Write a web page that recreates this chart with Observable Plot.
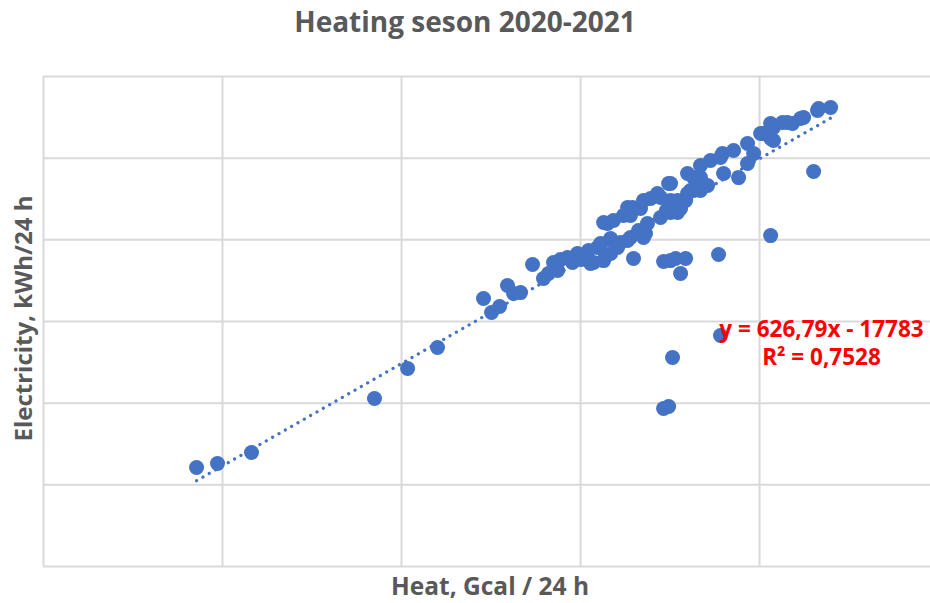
<!DOCTYPE html>
<html>
<head>
<meta charset="utf-8">
<script src="https://cdn.jsdelivr.net/npm/d3@7"></script>
<script src="https://cdn.jsdelivr.net/npm/@observablehq/plot@0.6"></script>
<style>
  html, body { margin: 0; padding: 0; background: #fff; }
  #title { height: 45px; padding-top: 5px; line-height: 32px; text-align: center;
           font-family: "Open Sans", sans-serif; font-weight: 700; font-size: 28px; color: #595959; }
</style>
</head>
<body>
<div id="title">Heating seson 2020-2021</div>
<div id="chart"></div>
<script>
// Heat, Gcal / 24 h
const heat = [36.75,37.92,39.82,46.69,48.54,50.21,
  52.78,53.23,53.68,54.12,54.46,54.85,55.52,56.13,56.41,56.69,56.92,57.08,57.47,57.75,58.03,58.20,58.65,58.93,59.15,59.49,59.60,
  58.76,59.49,59.88,59.32,59.88,60.43,60.99,61.44,61.83,61.94,61.72,60.83,60.27,
  59.71,60.04,60.60,60.99,60.83,61.11,61.55,61.72,62.11,62.50,62.67,63.12,63.23,63.23,63.23,63.62,63.79,64.07,64.18,64.51,64.90,65.30,64.35,63.62,62.67,63.00,
  64.18,64.51,64.90,64.90,66.13,66.19,67.03,66.75,67.53,67.53,67.87,68.42,66.02,65.46,
  68.82,68.98,69.49,69.76,70.04,70.49,70.66,71.44,71.50,72.17,68.98,68.82,68.26,68.65,
  61.16,62.84,63.23,63.51,64.07,63.79,65.91,66.02,63.34,62.84,63.12,68.82,71.22];
// Electricity, kWh / 24 h
const electricity = [6060,6310,6980,10290,12120,13410,
  16410,15550,15920,17200,16710,16770,18490,17630,17940,18610,18120,18790,18920,18610,19160,18790,19350,18610,19530,21060,18980,
  18550,18730,19160,19770,20080,19840,20140,20570,20390,21000,20140,19960,19530,
  21000,21180,21490,21490,21980,21980,21920,22410,22530,22840,22590,23450,23450,22410,21670,21670,21920,22410,22840,23020,23020,23330,23020,22410,21370,21790,
  24060,23810,24550,23810,25280,24060,23810,25470,25900,24670,25280,26510,25040,24860,
  27120,26880,27180,27180,27120,27430,27490,27920,28040,28100,26080,26200,26510,26510,
  18860,18670,18730,18860,18860,17940,19100,14140,12800,9670,9800,20260,24180];

// Linear trendline (from chart)
const slope = 626.79;
const intercept = -17783;
const equationLines = ["y = 626,79x - 17783", "R² = 0,7528"];

// Axis ranges / grid (no tick labels shown)
const xDomain = [28.2, 77.75];
const yDomain = [0, 30000];
const xGridTicks = [28.2, 38.2, 48.2, 58.2, 68.2];
const yGridTicks = [0, 5000, 10000, 15000, 20000, 25000, 30000];

const points = heat.map((h, i) => ({heat: h, elec: electricity[i]}));
const [xmin, xmax] = d3.extent(heat);
const trend = [xmin, xmax].map(x => ({heat: x, elec: slope * x + intercept}));

const blue = "#4472C4";
const grid = "#d9d9d9";

const chart = Plot.plot({
  width: 930,
  height: 553,
  marginTop: 26,
  marginBottom: 37,
  marginLeft: 43,
  marginRight: 0,
  style: {fontFamily: "Open Sans", background: "white", overflow: "visible"},
  x: {domain: xDomain, axis: null},
  y: {domain: yDomain, axis: null},
  marks: [
    Plot.gridX(xGridTicks, {stroke: grid, strokeOpacity: 1, strokeWidth: 2}),
    Plot.gridY(yGridTicks, {stroke: grid, strokeOpacity: 1, strokeWidth: 2}),
    Plot.dot(points, {x: "heat", y: "elec", r: 7.5, fill: blue, stroke: "none"}),
    Plot.line(trend, {x: "heat", y: "elec", stroke: blue, strokeWidth: 3.2,
      strokeDasharray: "0.1 7.2", strokeLinecap: "round"}),
    Plot.text(equationLines, {x: 71.66, y: (d, i) => 14510 - i * 1715, text: d => d, fill: "#ff0000",
      fontSize: 22.5, fontWeight: 700, textAnchor: "middle", lineAnchor: "middle"}),
    Plot.text(["Heat, Gcal / 24 h"], {frameAnchor: "bottom", dy: 21, dx: 3, lineAnchor: "middle",
      fill: "#595959", fontSize: 24.5, fontWeight: 700}),
    Plot.text(["Electricity, kWh/24 h"], {frameAnchor: "left", dx: -19, dy: -3, rotate: -90,
      lineAnchor: "middle", textAnchor: "middle", fill: "#595959", fontSize: 24, fontWeight: 700})
  ]
});
document.getElementById("chart").appendChild(chart);
</script>
</body>
</html>
